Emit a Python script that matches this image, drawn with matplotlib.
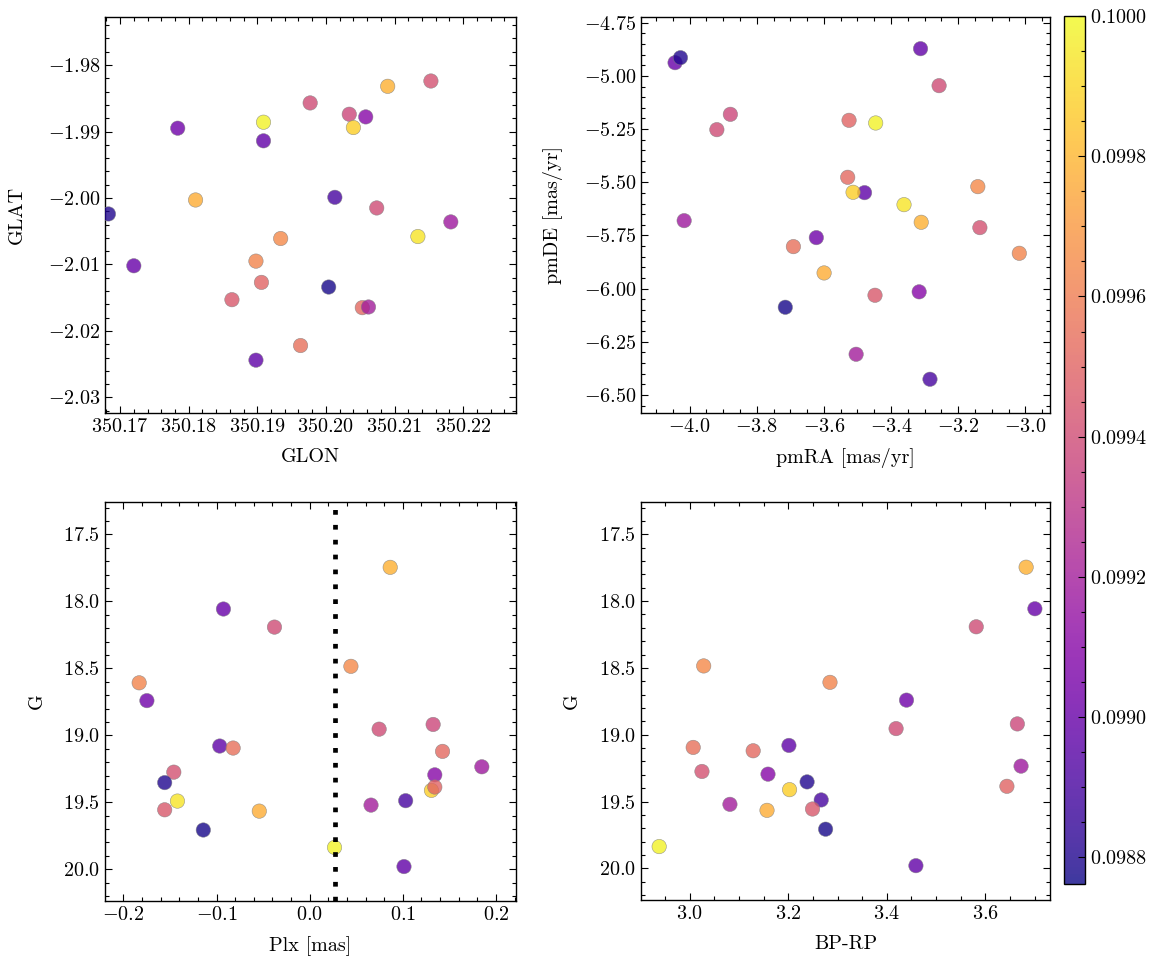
import numpy as np
import matplotlib
matplotlib.use("Agg")
import matplotlib.pyplot as plt
from matplotlib.ticker import MultipleLocator, AutoMinorLocator

# ---- data (one entry per star) ----
glon = [350.2090, 350.1720, 350.1977, 350.1934, 350.1898, 350.1784, 350.2034, 350.2074,
        350.1898, 350.1963, 350.2053, 350.2182, 350.2153, 350.2058, 350.1683, 350.2040,
        350.1906, 350.2134, 350.2013, 350.2062, 350.1863, 350.1810, 350.2004, 350.1909,
        350.1909]
glat = [-1.9832, -2.0102, -1.9857, -2.0061, -2.0095, -1.9895, -1.9874, -2.0015,
        -2.0244, -2.0222, -2.0165, -2.0036, -1.9824, -1.9878, -2.0024, -1.9894,
        -2.0127, -2.0058, -1.9999, -2.0164, -2.0153, -2.0003, -2.0134, -1.9886,
        -1.9914]
pmra = [-3.3102, -4.0432, -3.9187, -3.1416, -3.0181, -3.6225, -3.8785, -3.2570,
        -3.4789, -3.6908, -3.5291, -4.0161, -3.1355, -3.3163, -4.0271, -3.5131,
        -3.5251, -3.3614, -3.2841, -3.5040, -3.4478, -3.5994, -3.7149, -3.4458,
        -3.3122]
pmde = [-5.6883, -4.9380, -5.2528, -5.5207, -5.8340, -5.7603, -5.1808, -5.0460,
        -5.5489, -5.8026, -5.4768, -5.6805, -5.7133, -6.0151, -4.9145, -5.5473,
        -5.2090, -5.6053, -6.4261, -6.3086, -6.0313, -5.9264, -6.0877, -5.2215,
        -4.8722]
plx = [0.0865, -0.0926, -0.0378, 0.0443, -0.1831, -0.1748, 0.1326, 0.0746,
       -0.0966, -0.0822, 0.1427, 0.1849, -0.1459, 0.1344, -0.1557, 0.1308,
       0.1344, -0.1420, 0.1031, 0.0659, -0.1557, -0.0541, -0.1142, 0.0267,
       0.1013]
gmag = [17.746, 18.057, 18.192, 18.485, 18.608, 18.741, 18.919, 18.954,
        19.080, 19.095, 19.120, 19.235, 19.275, 19.295, 19.353, 19.411,
        19.386, 19.491, 19.488, 19.521, 19.556, 19.566, 19.707, 19.837,
        19.980]
bprp = [3.6829, 3.7007, 3.5816, 3.0281, 3.2846, 3.4400, 3.6651, 3.4188,
        3.2012, 3.0068, 3.1286, 3.6726, 3.0246, 3.1587, 3.2381, 3.2025,
        3.6439, np.nan, 3.2668, 3.0814, 3.2491, 3.1567, 3.2757, 2.9377,
        3.4591]
cval = [0.09978, 0.09900, 0.09940, 0.09965, 0.09963, 0.09902, 0.09938, 0.09940,
        0.09897, 0.09955, 0.09952, 0.09918, 0.09942, 0.09910, 0.09880, 0.09987,
        0.09950, 0.09994, 0.09890, 0.09920, 0.09945, 0.09977, 0.09878, 0.09998,
        0.09898]
plx_ref = 0.0267
cmin, cmax = 0.098762, 0.1000

# ---- style ----
plt.rcParams.update({
    "font.family": "serif",
    "font.serif": ["cmr10"],
    "mathtext.fontset": "cm",
    "axes.formatter.use_mathtext": True,
    "axes.formatter.useoffset": False,
    "axes.unicode_minus": True,
    "font.size": 14.5,
    "axes.linewidth": 1.0,
    "xtick.direction": "in", "ytick.direction": "in",
    "xtick.top": True, "ytick.right": True,
    "xtick.major.size": 5, "ytick.major.size": 5,
    "xtick.minor.size": 2.8, "ytick.minor.size": 2.8,
    "xtick.major.width": 0.8, "ytick.major.width": 0.8,
    "xtick.minor.width": 0.8, "ytick.minor.width": 0.8,
    "xtick.minor.visible": True, "ytick.minor.visible": True,
})

W, H = 1166, 965
fig = plt.figure(figsize=(W / 100, H / 100), dpi=100)

def add_ax(l, t, r, b):
    return fig.add_axes([l / W, 1 - b / H, (r - l) / W, (b - t) / H])

ax1 = add_ax(105, 17, 516, 413)
ax2 = add_ax(641, 17, 1050, 413)
ax3 = add_ax(105, 502, 516, 901)
ax4 = add_ax(641, 502, 1050, 900)
cax = add_ax(1064, 16, 1085, 884)

kw = dict(c=cval, cmap="plasma", vmin=cmin, vmax=cmax, s=108, alpha=0.8,
          edgecolors="gray", linewidths=0.4, zorder=3)

sc = ax1.scatter(glon, glat, **kw)
ax2.scatter(pmra, pmde, **kw)
ax3.scatter(plx, gmag, **kw)
ax3.axvline(plx_ref, color="black", lw=3.4, linestyle=(0, (1, 2.15)), zorder=4)
ax4.scatter(bprp, gmag, **kw)

ax1.set_xlim(350.1678, 350.2277); ax1.set_ylim(-2.03235, -1.97277)
ax2.set_xlim(-4.1446, -2.9267); ax2.set_ylim(-6.5847, -4.7233)
ax3.set_xlim(-0.2198, 0.2216); ax3.set_ylim(20.237, 17.258)
ax4.set_xlim(2.9008, 3.7314); ax4.set_ylim(20.237, 17.258)

ax1.xaxis.set_major_locator(MultipleLocator(0.01)); ax1.yaxis.set_major_locator(MultipleLocator(0.01))
ax2.xaxis.set_major_locator(MultipleLocator(0.2)); ax2.yaxis.set_major_locator(MultipleLocator(0.25))
ax3.xaxis.set_major_locator(MultipleLocator(0.1)); ax3.yaxis.set_major_locator(MultipleLocator(0.5))
ax4.xaxis.set_major_locator(MultipleLocator(0.2)); ax4.yaxis.set_major_locator(MultipleLocator(0.5))

for ax, xl, yl, ypad in [(ax1, "GLON", "GLAT", 15.5), (ax2, "pmRA [mas/yr]", "pmDE [mas/yr]", 15.0),
                         (ax3, "Plx [mas]", "G", 12.5), (ax4, "BP-RP", "G", 13.0)]:
    ax.xaxis.set_minor_locator(AutoMinorLocator())
    ax.yaxis.set_minor_locator(AutoMinorLocator())
    ax.set_xlabel(xl, labelpad=9)
    ax.set_ylabel(yl, labelpad=ypad)

cb = fig.colorbar(sc, cax=cax)
cb.set_ticks(np.arange(0.0988, 0.10001, 0.0002))
cb.ax.yaxis.set_major_formatter(plt.FormatStrFormatter("$%.4f$"))
cb.ax.yaxis.set_minor_locator(AutoMinorLocator())
cb.ax.tick_params(which="both", direction="in", right=True, left=False)
cb.outline.set_linewidth(1.0)

fig.savefig("out.png", dpi=100)
